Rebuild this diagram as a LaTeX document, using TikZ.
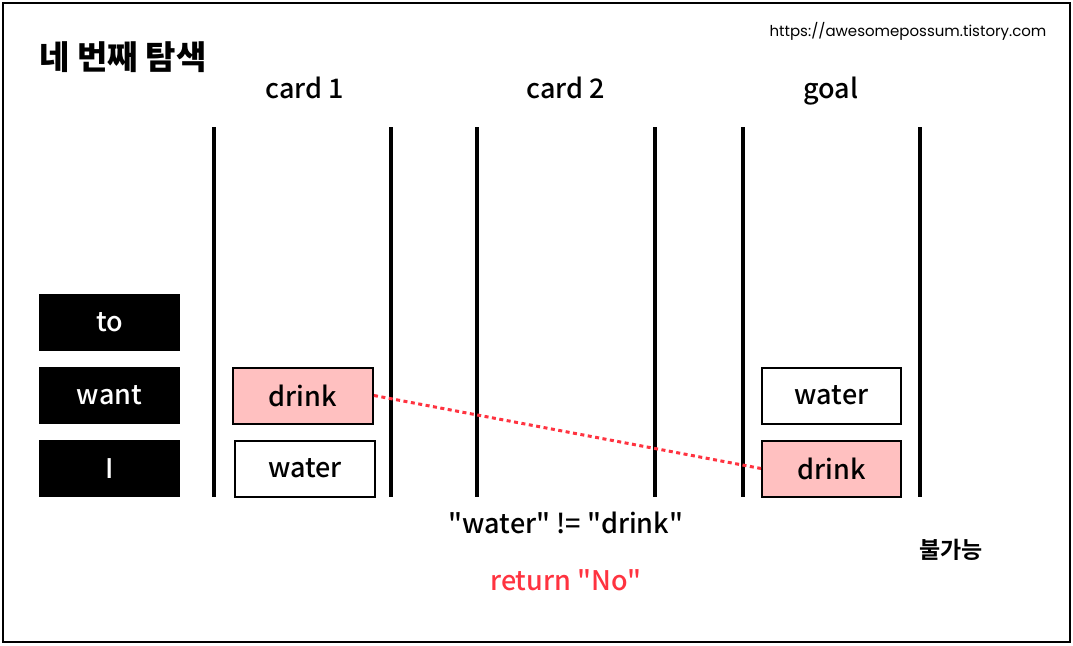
\documentclass[tikz,border=0pt]{standalone}
\usepackage{fontspec}
\setmainfont{Noto Sans CJK KR}[UprightFont={* Medium}, BoldFont={* Black}]
\newfontfamily\krfont{Noto Sans CJK KR}[UprightFont={* Bold}, BoldFont={* Black}]
\newfontfamily\urlfont{Poppins}
\definecolor{hitpink}{RGB}{255,192,192}
\definecolor{missred}{RGB}{255,51,64}

\begin{document}
\begin{tikzpicture}[x=1pt, y=-1pt,
    word/.style={fill=black, text=white, minimum width=141pt, minimum height=57pt, inner sep=0pt, font=\fontsize{27}{29}\selectfont},
    card/.style={draw=black, line width=2pt, minimum width=140pt, minimum height=56pt, inner sep=0pt, font=\fontsize{27}{29}\selectfont},
    hit/.style={card, fill=hitpink},
    head/.style={anchor=base, font=\fontsize{27}{29}\selectfont},
    wall/.style={line width=4pt},
    miss/.style={draw=missred, line width=3pt, dash pattern=on 4pt off 3.5pt}]
    % Rahmen
    \useasboundingbox (0,0) rectangle (1073,645);
    \draw[line width=2pt] (3,3) rectangle (1070,642);
    % Titel und Quelle
    \node[anchor=west, font=\krfont\bfseries\fontsize{33}{35}\selectfont] (title) at (36,57) {네 번째 탐색};
    \node[font=\urlfont\fontsize{15}{17}\selectfont] (url) at (908,31) {https://awesomepossum.tistory.com};
    % Spaltenkoepfe
    \node[head] (hcard1) at (305,98) {card 1};
    \node[head] (hcard2) at (566,98) {card 2};
    \node[head] (hgoal) at (831,98) {goal};
    % Spaltenwaende
    \foreach \x in {214,391,477,655,743,920} \draw[wall] (\x,127) -- (\x,497);
    % Woerter links
    \node[word] (wto) at (109.5,322.5) {to};
    \node[word] (wwant) at (109.5,395.5) {want};
    \node[word] (wi) at (109.5,468.5) {I};
    % Karten
    \node[hit] (c1drink) at (303,395.5) {drink};
    \node[card] (c1water) at (305,468.5) {water};
    \node[card, minimum width=139pt] (gwater) at (831.5,395.5) {water};
    \node[hit, minimum width=139pt] (gdrink) at (831.5,468.5) {drink};
    % Vergleich
    \draw[miss] (c1drink.east) -- (gdrink.west);
    \node[head] (cmp) at (566,533) {\textquotedbl water\textquotedbl{} != \textquotedbl drink\textquotedbl};
    \node[head, text=missred] (ret) at (566,590) {return \textquotedbl No\textquotedbl};
    \node[font=\krfont\fontsize{23}{25}\selectfont] (fail) at (951,550) {불가능};
\end{tikzpicture}
\end{document}
